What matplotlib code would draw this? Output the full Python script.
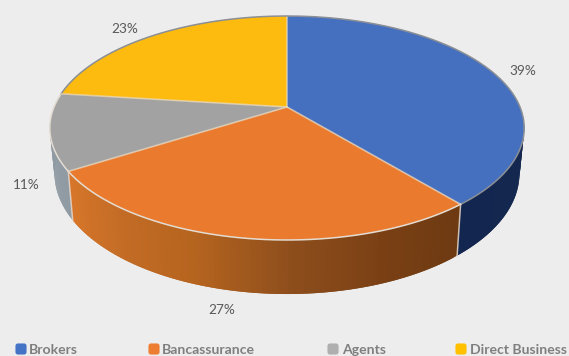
import numpy as np
import matplotlib
matplotlib.use("Agg")
import matplotlib.pyplot as plt
from matplotlib.colors import to_rgb
from matplotlib.patches import FancyBboxPatch

categories = ["Brokers", "Bancassurance", "Agents", "Direct Business"]
shares = [39, 27, 11, 23]
top_colors = ["#4570BF", "#EA7B2E", "#A2A2A2", "#FDBB10"]
legend_colors = ["#4472C4", "#ED7D31", "#AFAFAF", "#FFC000"]
# Wall shades listed clockwise along each slice
wall_shades = [
    ["#1D3665", "#16294F", "#12264F"],
    ["#6E3A12", "#7A4014", "#8E4E1C", "#B5641F", "#C46C26", "#D8772A"],
    ["#8F9AA3", "#8F9AA3"],
    ["#FFC000", "#FFC000"],
]
label_pos = [(523, 71), (222, 310), (26, 185), (125, 29)]
legend_box_x = [15, 148, 327, 455]
legend_text_x = [29, 162, 342, 470]

BACKGROUND = "#EDEDED"
APEX_X, APEX_Y = 287.0, 107.0
PERSPECTIVE = 0.1875
HALF_WIDTH, HALF_DEPTH = 233.0, 108.06
THICKNESS = 43.9
BASE_SHRINK = 0.98


def project(angle, drop=0.0):
    """Perspective view of a point on the disc rim; angle runs clockwise from 12 o'clock."""
    x, y = np.sin(angle), np.cos(angle)
    w = 1 + PERSPECTIVE * y
    scale = 1 - (1 - BASE_SHRINK) * drop
    return APEX_X + scale * HALF_WIDTH * x / w, APEX_Y - HALF_DEPTH * y / w + drop * THICKNESS / w


def blend(stops, t):
    rgb = np.array([to_rgb(c) for c in stops])
    pos = np.linspace(0, 1, len(stops))
    return [float(np.interp(t, pos, rgb[:, i])) for i in range(3)]


plt.rcParams["font.family"] = ["Lato", "DejaVu Sans"]
fig = plt.figure(figsize=(5.69, 3.56), dpi=100, facecolor=BACKGROUND)
ax = fig.add_axes([0, 0, 1, 1])
ax.set_xlim(0, 569)
ax.set_ylim(356, 0)
ax.axis("off")

edges = np.radians(np.cumsum([0] + shares) * 3.6)

# Side wall: each quad overlaps its neighbour so no hairline gaps show between them
for i in range(len(shares)):
    angles = np.linspace(edges[i], edges[i + 1], 90)
    for j in range(len(angles) - 1):
        a = angles[j:j + 3]
        x0, y0 = project(a)
        x1, y1 = project(a[::-1], 1.0)
        c = blend(wall_shades[i], j / (len(angles) - 2))
        ax.fill(np.r_[x0, x1], np.r_[y0, y1], color=c, lw=0, zorder=2)

# Light seams where the slices meet on the wall
for e in edges[1:3]:
    x0, y0 = project(e)
    x1, y1 = project(e, 1.0)
    ax.plot([x0, x1], [y0, y1], color="#E3D5C8", lw=1.1, alpha=0.85, zorder=3)

# Top face
for i in range(len(shares)):
    a = np.linspace(edges[i], edges[i + 1], 160)
    x, y = project(a)
    ax.fill(np.r_[APEX_X, x], np.r_[APEX_Y, y], color=top_colors[i], lw=0, zorder=4)
    ax.plot(x, y, color="#E4DCD2" if np.cos(a).mean() < 0.2 else "#8B8F96",
            lw=1.1, zorder=5)
    sx, sy = project(edges[i])
    ax.plot([APEX_X, sx], [APEX_Y, sy], color="#E8D8C0", lw=1.2, alpha=0.7, zorder=5)

# Percentage labels
for share, (lx, ly) in zip(shares, label_pos):
    ax.text(lx, ly, f"{share}%", ha="center", va="center", fontsize=9.8, color="#595959")

# Legend along the bottom edge
for name, color, bx, tx in zip(categories, legend_colors, legend_box_x, legend_text_x):
    ax.add_patch(FancyBboxPatch((bx + 1, 344), 10, 10, boxstyle="round,pad=0,rounding_size=2",
                                fc=color, ec=color, lw=0.8, zorder=6))
    ax.text(tx, 353.5, name, ha="left", va="baseline", fontsize=10.1, fontweight="bold",
            color="#7F7F7F", clip_on=False)

fig.savefig("out.png", dpi=100, facecolor=BACKGROUND)
